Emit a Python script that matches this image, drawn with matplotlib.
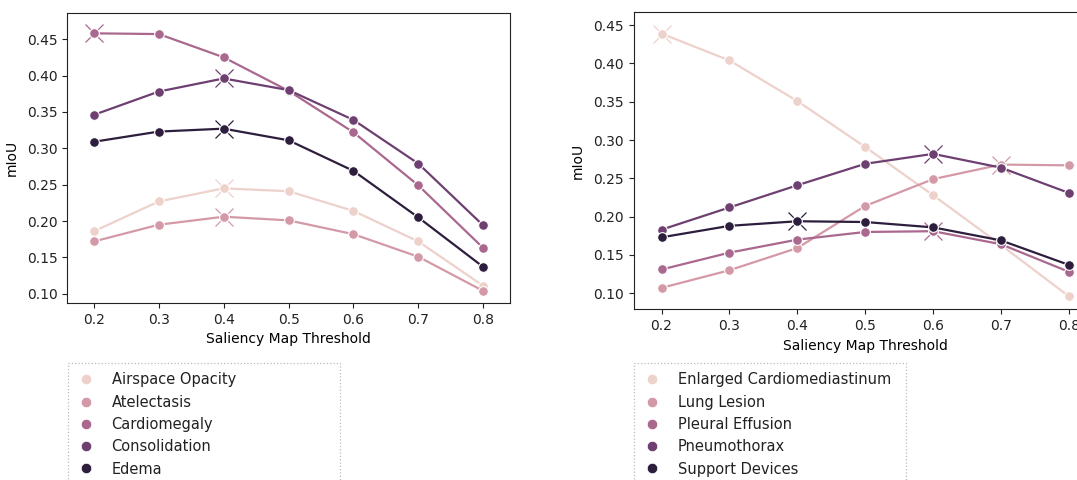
import numpy as np
import matplotlib
matplotlib.use('Agg')
import matplotlib.pyplot as plt
import seaborn as sns
from matplotlib.lines import Line2D

thresholds = [0.2, 0.3, 0.4, 0.5, 0.6, 0.7, 0.8]

# left panel
left_labels = ['Airspace Opacity', 'Atelectasis', 'Cardiomegaly', 'Consolidation', 'Edema']
airspace_opacity = [0.186, 0.227, 0.245, 0.241, 0.214, 0.172, 0.111]
atelectasis = [0.172, 0.195, 0.206, 0.201, 0.182, 0.151, 0.104]
cardiomegaly = [0.458, 0.457, 0.425, 0.379, 0.322, 0.249, 0.163]
consolidation = [0.346, 0.378, 0.396, 0.380, 0.339, 0.279, 0.194]
edema = [0.309, 0.323, 0.327, 0.311, 0.269, 0.205, 0.137]

# right panel
right_labels = ['Enlarged Cardiomediastinum', 'Lung Lesion', 'Pleural Effusion',
                'Pneumothorax', 'Support Devices']
enlarged_cardiomediastinum = [0.439, 0.404, 0.351, 0.291, 0.228, 0.163, 0.096]
lung_lesion = [0.107, 0.130, 0.159, 0.214, 0.249, 0.268, 0.267]
pleural_effusion = [0.131, 0.153, 0.170, 0.180, 0.181, 0.164, 0.128]
pneumothorax = [0.183, 0.212, 0.241, 0.269, 0.282, 0.264, 0.231]
support_devices = [0.173, 0.188, 0.194, 0.193, 0.186, 0.169, 0.137]

left_series = [airspace_opacity, atelectasis, cardiomegaly, consolidation, edema]
right_series = [enlarged_cardiomediastinum, lung_lesion, pleural_effusion,
                pneumothorax, support_devices]

colors = sns.cubehelix_palette(5)

fig = plt.figure(figsize=(10.77, 4.8), dpi=100)
ax1 = fig.add_axes([0.0625, 0.369, 0.411, 0.604])
ax2 = fig.add_axes([0.5884, 0.3556, 0.430, 0.619])


def draw(ax, series, labels, ylim, legend_x):
    for vals, c in zip(series, colors):
        i = int(np.argmax(vals))
        # max point marked with a big thin x under the dot
        ax.plot(thresholds[i], vals[i], marker='x', ms=13, mew=0.9,
                color=c, linestyle='none', zorder=2)
        ax.plot(thresholds, vals, color=c, lw=1.6, marker='o', ms=7,
                mec='white', mew=0.8, zorder=3)
    ax.set_xticks(thresholds)
    ax.set_xticklabels(['0.2', '0.3', '0.4', '0.5', '0.6', '0.7', '0.8'])
    ax.set_xlim(0.159, 0.8412)
    ax.set_ylim(*ylim)
    ax.set_yticks([0.10, 0.15, 0.20, 0.25, 0.30, 0.35, 0.40, 0.45])
    ax.set_xlabel('Saliency Map Threshold', fontsize=10)
    ax.set_ylabel('mIoU', fontsize=10, labelpad=6)
    ax.tick_params(labelsize=10, colors='#222222')
    for s in ax.spines.values():
        s.set_color('#222222')
    handles = [Line2D([], [], marker='o', linestyle='none', color=c, ms=7.5, mec='white', mew=0.5)
               for c in colors]
    leg = fig.legend(handles, labels, loc='upper left',
                     bbox_to_anchor=(legend_x, -0.5, 0.2526, 0.744),
                     bbox_transform=fig.transFigure, mode='expand',
                     borderaxespad=0, fontsize=10.5, labelspacing=0.5,
                     borderpad=0.65, handlelength=1.2, handletextpad=1.15,
                     fancybox=False, framealpha=1)
    frame = leg.get_frame()
    frame.set_edgecolor('#bbbbbb')
    frame.set_linestyle(':')
    frame.set_linewidth(0.9)
    for t in leg.get_texts():
        t.set_color('#222222')


draw(ax1, left_series, left_labels, (0.0876, 0.486), 0.063)
draw(ax2, right_series, right_labels, (0.079, 0.467), 0.5887)

plt.savefig('out.png', dpi=100)
plt.close(fig)
